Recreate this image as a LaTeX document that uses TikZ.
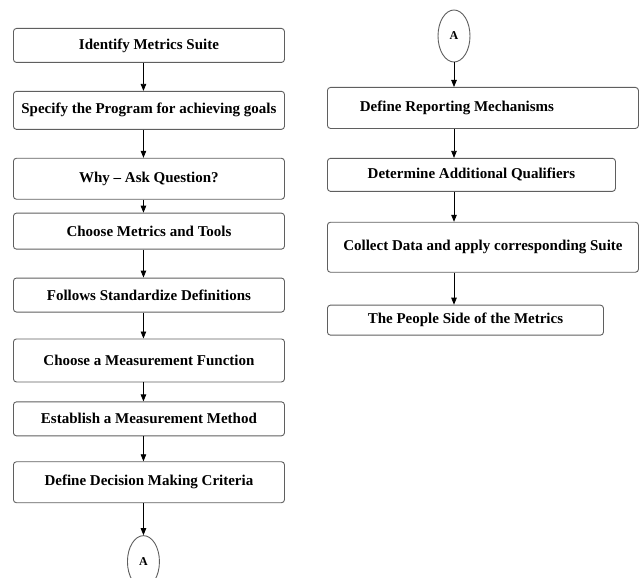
\documentclass[tikz,border=0pt]{standalone}
\usepackage{fontspec}
\setmainfont{Liberation Serif}
\usetikzlibrary{arrows.meta,positioning,shapes.geometric}
\definecolor{edge}{RGB}{95,95,95}

\begin{document}
\begin{tikzpicture}[x=1pt,y=1pt,font=\fontsize{15}{18}\selectfont\bfseries,
  node distance=28pt,
  box/.style={draw=edge,rounded corners=3pt,line width=0.9pt,inner sep=0pt,minimum width=271pt},
  rbox/.style={box,anchor=north west},
  con/.style={draw=edge,ellipse,line width=0.9pt,inner sep=0pt,minimum width=32pt,minimum height=52pt,
    font=\fontsize{12}{14}\selectfont\bfseries},
  flow/.style={-{Triangle[length=7pt,width=5.5pt]},line width=0.8pt}]
  \useasboundingbox (0,0) rectangle (640,-578);
  % left column
  \node[box,minimum height=34pt,anchor=north west] (m1) at (13,-28) {Identify Metrics Suite};
  \node[box,minimum height=38pt,below=28pt of m1] (m2) {Specify the Program for achieving goals};
  \node[box,minimum height=41pt,below=28pt of m2] (m3) {Why -- Ask Question?};
  \node[box,minimum height=36pt,below=13pt of m3] (m4) {Choose Metrics and Tools};
  \node[box,minimum height=34pt,below=28pt of m4] (m5) {Follows Standardize Definitions};
  \node[box,minimum height=43pt,below=26pt of m5] (m6) {Choose a Measurement Function};
  \node[box,minimum height=34pt,below=19pt of m6] (m7) {Establish a Measurement Method};
  \node[box,minimum height=41pt,below=25pt of m7] (m8) {Define Decision Making Criteria};
  \node[con,below=32pt of m8,xshift=-5.5pt] (la) {A};
  % right column
  \node[con] (ra) at (454,-36) {A};
  \node[rbox,minimum width=311pt,minimum height=41pt] (r1) at (327,-87) {Define Reporting Mechanisms\hspace*{52pt}};
  \node[rbox,minimum width=288pt,minimum height=33pt,below=29pt of r1.south west,anchor=north west] (r2) {Determine Additional Qualifiers};
  \node[rbox,minimum width=311pt,minimum height=50pt,below=30pt of r2.south west,anchor=north west] (r3) {Collect Data and apply corresponding Suite};
  \node[rbox,minimum width=276pt,minimum height=30pt,below=32pt of r3.south west,anchor=north west] (r4) {The People Side of the Metrics};
  \foreach \a/\b in {m1/m2,m2/m3,m3/m4,m4/m5,m5/m6,m6/m7,m7/m8}
    \draw[flow] (\a.south -| la) -- (\b.north -| la);
  \draw[flow] (m8.south -| la) -- (la);
  \draw[flow] (ra) -- (r1.north -| ra);
  \foreach \a/\b in {r1/r2,r2/r3,r3/r4}
    \draw[flow] (\a.south -| ra) -- (\b.north -| ra);
\end{tikzpicture}
\end{document}
